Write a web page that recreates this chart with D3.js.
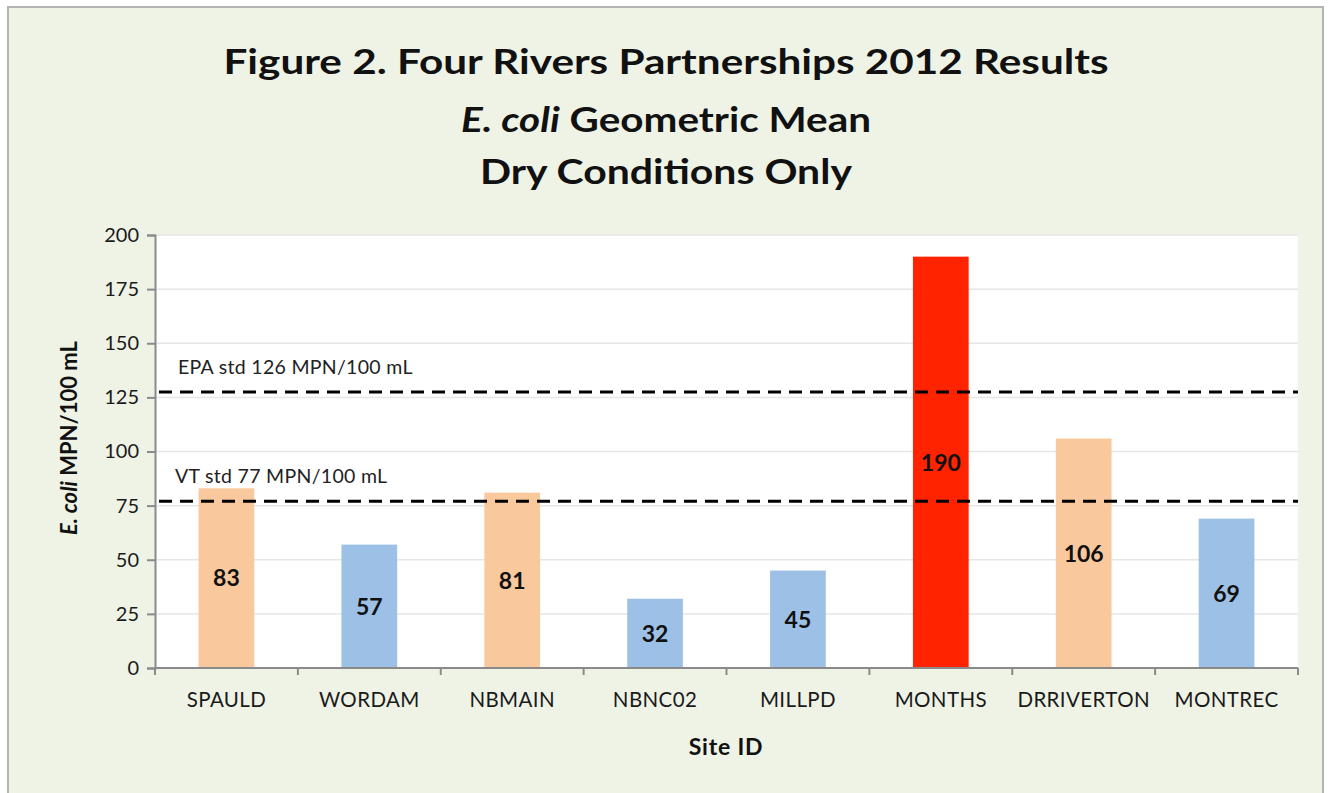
<!DOCTYPE html>
<html>
<head>
<meta charset="utf-8">
<script src="https://cdn.jsdelivr.net/npm/d3@7"></script>
<style>
  html, body { margin: 0; padding: 0; background: #ffffff; }
  svg { display: block; font-family: Lato, "Open Sans", sans-serif; }
</style>
</head>
<body>
<svg id="chart" width="1331" height="793"></svg>
<script>
// ---- data ----
const sites = ["SPAULD", "WORDAM", "NBMAIN", "NBNC02", "MILLPD", "MONTHS", "DRRIVERTON", "MONTREC"];
const geoMeans = [83, 57, 81, 32, 45, 190, 106, 69];
const levels = ["above VT", "below", "above VT", "below", "below", "above EPA", "above VT", "below"];
const yTicks = [0, 25, 50, 75, 100, 125, 150, 175, 200];
const standardLabels = ["EPA std 126 MPN/100 mL", "VT std 77 MPN/100 mL"];
const standardValues = [127.5, 77];
const levelColors = { "below": "#9dc1e6", "above VT": "#fac89d", "above EPA": "#ff2300" };

// ---- layout ----
const W = 1331, H = 793;
const m = { left: 155, right: 1298, top: 235, bottom: 668 };
const svg = d3.select("#chart");

svg.append("rect").attr("x", 0).attr("y", 0).attr("width", W).attr("height", H).attr("fill", "#ffffff");
svg.append("rect").attr("x", 8).attr("y", 7).attr("width", 1315).attr("height", 790)
  .attr("fill", "#eff3e6").attr("stroke", "#b4b4b4").attr("stroke-width", 2);

const x = d3.scaleBand().domain(sites).range([m.left, m.right]).paddingInner(0.61).paddingOuter(0.305);
const y = d3.scaleLinear().domain([0, 200]).range([m.bottom, m.top]);

svg.append("rect").attr("x", m.left).attr("y", m.top).attr("width", m.right - m.left).attr("height", m.bottom - m.top)
  .attr("fill", "#ffffff");

// gridlines
svg.append("g").selectAll("line").data(yTicks.filter(d => d > 0)).join("line")
  .attr("x1", m.left).attr("x2", m.right)
  .attr("y1", d => y(d)).attr("y2", d => y(d))
  .attr("stroke", "#e6e6e6").attr("stroke-width", 1.5);

// bars
svg.append("g").selectAll("rect").data(sites).join("rect")
  .attr("x", d => x(d))
  .attr("width", x.bandwidth())
  .attr("y", (d, i) => y(geoMeans[i]))
  .attr("height", (d, i) => y(0) - y(geoMeans[i]))
  .attr("fill", (d, i) => levelColors[levels[i]]);

// value labels
svg.append("g").selectAll("text").data(sites).join("text")
  .attr("x", d => x(d) + x.bandwidth() / 2)
  .attr("y", (d, i) => (y(geoMeans[i]) + y(0)) / 2)
  .attr("dy", "0.36em")
  .attr("text-anchor", "middle")
  .attr("font-weight", "bold")
  .attr("font-size", 23)
  .attr("fill", "#111")
  .text((d, i) => geoMeans[i]);

// standard lines
const stdG = svg.append("g");
stdG.selectAll("line").data(standardValues).join("line")
  .attr("x1", m.left + 4).attr("x2", m.right)
  .attr("y1", d => y(d)).attr("y2", d => y(d))
  .attr("stroke", "#000").attr("stroke-width", 3)
  .attr("stroke-dasharray", "13,8");
stdG.selectAll("text").data(standardLabels).join("text")
  .attr("x", (d, i) => m.left + (i === 0 ? 23 : 20))
  .attr("y", (d, i) => y(standardValues[i]) - 18)
  .attr("font-size", 19.5)
  .attr("letter-spacing", 0.3)
  .attr("fill", "#222")
  .text(d => d);

// axes
const axisColor = "#8a8a8a";
const yAxis = svg.append("g").attr("transform", `translate(${m.left},0)`)
  .call(d3.axisLeft(y).tickValues(yTicks).tickSize(8).tickPadding(8));
const xAxis = svg.append("g").attr("transform", `translate(0,${m.bottom})`)
  .call(d3.axisBottom(x).tickSize(0).tickPadding(24));

[yAxis, xAxis].forEach(g => {
  g.select(".domain").attr("stroke", axisColor).attr("stroke-width", 2);
  g.selectAll(".tick line").attr("stroke", axisColor).attr("stroke-width", 2);
  g.selectAll(".tick text").attr("fill", "#1a1a1a").attr("font-family", "Lato, sans-serif");
});
yAxis.selectAll(".tick text").attr("font-size", 20);
xAxis.selectAll(".tick text").attr("font-size", 20.5).attr("letter-spacing", 0.4);
xAxis.select(".domain").attr("d", `M${m.left},0H${m.right}`);

// category boundary ticks
const bounds = sites.map(s => x(s) - x.step() * x.paddingInner() / 2).concat([m.right]);
svg.append("g").selectAll("line").data(bounds).join("line")
  .attr("x1", d => d).attr("x2", d => d)
  .attr("y1", m.bottom).attr("y2", m.bottom + 7)
  .attr("stroke", axisColor).attr("stroke-width", 2);

// axis titles
svg.append("text")
  .attr("x", 726).attr("y", 755)
  .attr("text-anchor", "middle").attr("font-weight", "bold").attr("font-size", 23)
  .attr("letter-spacing", 0.8)
  .attr("fill", "#111")
  .text("Site ID");

const yt = svg.append("text")
  .attr("transform", "translate(77,438) rotate(-90)")
  .attr("text-anchor", "middle").attr("font-weight", "bold").attr("font-size", 22)
  .attr("fill", "#111");
yt.append("tspan").attr("font-style", "italic").text("E. coli");
yt.append("tspan").text(" MPN/100 mL");

// title
const titleLines = [
  [{ t: "Figure 2. Four Rivers Partnerships 2012 Results" }],
  [{ t: "E. coli", i: true }, { t: " Geometric Mean" }],
  [{ t: "Dry Conditions Only" }]
];
const titleY = [74, 132, 184];
const titleWidths = [885, 410, 372];
titleLines.forEach((parts, li) => {
  const t = svg.append("text")
    .attr("x", 666 - titleWidths[li] / 2).attr("y", titleY[li])
    .attr("font-weight", "bold").attr("font-size", 35)
    .attr("fill", "#111")
    .attr("textLength", titleWidths[li])
    .attr("lengthAdjust", "spacingAndGlyphs");
  parts.forEach(p => {
    const s = t.append("tspan").text(p.t);
    if (p.i) s.attr("font-style", "italic");
  });
});
</script>
</body>
</html>
